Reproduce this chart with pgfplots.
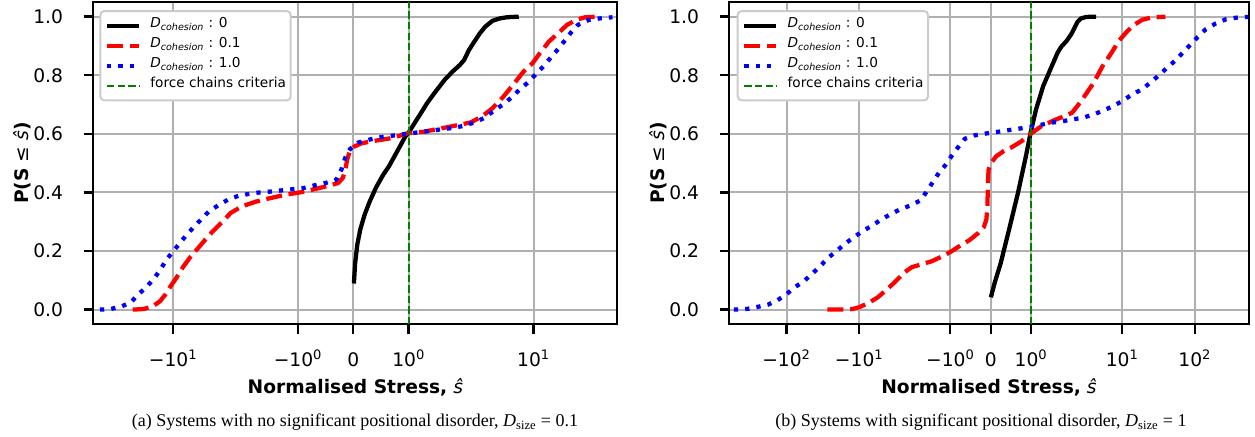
\documentclass[border=0pt]{standalone}
\usepackage{fontspec}
\setmainfont{DejaVu Sans}
\newfontfamily\capfont{Liberation Serif}
\usepackage{pgfplots}
\usepackage{pgfplotstable}
\pgfplotsset{compat=1.18}

\definecolor{gridgray}{HTML}{B0B0B0}
\definecolor{chaingreen}{HTML}{008000}
\definecolor{legedge}{HTML}{CCCCCC}

% stress values (s) and cumulative probability (p)
\pgfplotstableread{
s p
0.01 0.089
0.033 0.159
0.072 0.222
0.125 0.273
0.204 0.324
0.296 0.369
0.414 0.418
0.533 0.458
0.644 0.489
0.743 0.523
0.842 0.557
0.940 0.591
0.993 0.602
1.105 0.636
1.203 0.665
1.335 0.705
1.466 0.739
1.650 0.784
1.795 0.8125
1.926 0.835
2.01 0.852
2.245 0.886
2.547 0.915
2.89 0.943
3.28 0.966
3.88 0.986
4.59 0.994
5.43 0.998
7.11 1.0
}\aBlack

\pgfplotstableread{
s p
-25.5 0.0
-19.8 0.002
-16.1 0.011
-13.6 0.028
-12.0 0.051
-10.6 0.080
-9.30 0.108
-7.86 0.148
-6.64 0.182
-5.62 0.210
-4.75 0.239
-4.01 0.267
-3.25 0.298
-2.64 0.330
-2.05 0.352
-1.755 0.369
-1.492 0.381
-1.229 0.392
-0.967 0.400
-0.704 0.411
-0.440 0.423
-0.276 0.432
-0.191 0.449
-0.145 0.477
-0.112 0.511
-0.066 0.540
0.020 0.557
0.151 0.568
0.414 0.577
0.677 0.585
0.993 0.602
1.269 0.607
1.598 0.619
1.926 0.631
2.34 0.639
3.02 0.659
3.88 0.6875
4.99 0.727
6.43 0.773
7.94 0.8125
9.78 0.841
11.57 0.875
14.29 0.915
17.62 0.943
21.75 0.972
26.85 0.989
33.1 0.998
44.5 1.0
}\aRed

\pgfplotstableread{
s p
-54.4 0.0
-42.3 0.002
-32.9 0.011
-26.6 0.025
-22.5 0.051
-18.2 0.080
-15.4 0.108
-13.3 0.139
-11.7 0.170
-9.96 0.200
-8.55 0.227
-7.23 0.258
-6.11 0.284
-5.16 0.310
-4.37 0.335
-3.45 0.358
-2.75 0.377
-2.17 0.389
-1.887 0.395
-1.690 0.400
-1.492 0.403
-1.295 0.407
-1.098 0.411
-0.901 0.415
-0.704 0.424
-0.506 0.432
-0.309 0.443
-0.211 0.480
-0.145 0.519
-0.059 0.548
0.085 0.570
0.283 0.580
0.480 0.588
0.677 0.593
0.993 0.601
1.269 0.607
1.532 0.614
1.795 0.620
1.992 0.627
2.55 0.639
3.15 0.653
4.05 0.680
4.99 0.701
6.16 0.727
7.29 0.752
9.00 0.778
10.64 0.805
12.59 0.830
14.9 0.860
17.62 0.889
20.5 0.917
23.7 0.945
28.0 0.972
36.0 0.989
46.3 0.994
62.2 0.998
}\aBlue

\pgfplotstableread{
s p
0.005 0.042
0.098 0.091
0.249 0.159
0.455 0.273
0.677 0.399
0.873 0.524
0.989 0.604
1.123 0.683
1.301 0.763
1.479 0.820
1.658 0.877
1.747 0.897
1.880 0.917
1.996 0.940
2.16 0.957
2.42 0.982
2.71 0.994
3.21 0.999
4.37 1.0
}\bBlack

\pgfplotstableread{
s p
-27.4 0.0
-17.4 0.0
-12.3 0.002
-9.82 0.009
-7.38 0.023
-5.55 0.042
-4.17 0.068
-3.14 0.097
-2.36 0.128
-1.951 0.145
-1.729 0.154
-1.462 0.165
-1.194 0.182
-0.971 0.199
-0.749 0.219
-0.526 0.237
-0.303 0.262
-0.169 0.282
-0.107 0.308
-0.080 0.353
-0.071 0.421
-0.053 0.478
0.009 0.501
0.143 0.524
0.321 0.541
0.544 0.556
0.766 0.575
0.989 0.600
1.256 0.626
1.568 0.646
1.836 0.661
2.04 0.672
2.42 0.695
3.04 0.729
4.04 0.774
5.37 0.831
7.14 0.877
8.97 0.917
11.26 0.945
14.14 0.970
18.8 0.989
25.0 0.997
39.4 1.0
}\bRed

\pgfplotstableread{
s p
-530 0.0
-356 0.002
-253 0.009
-180 0.017
-135 0.031
-102 0.051
-76.4 0.077
-57.5 0.097
-44.2 0.123
-34.4 0.148
-26.8 0.177
-20.6 0.199
-15.9 0.224
-12.1 0.245
-8.97 0.268
-6.58 0.287
-4.95 0.308
-3.72 0.325
-2.74 0.342
-1.978 0.356
-1.747 0.372
-1.595 0.401
-1.444 0.433
-1.283 0.467
-1.123 0.493
-0.971 0.524
-0.820 0.552
-0.642 0.583
-0.392 0.595
-0.125 0.601
0.143 0.606
0.410 0.612
0.677 0.617
0.989 0.624
1.256 0.631
1.479 0.638
1.747 0.642
2.04 0.649
2.87 0.655
4.04 0.666
5.55 0.680
7.55 0.695
10.05 0.712
13.8 0.735
18.8 0.752
25.0 0.777
32.1 0.800
41.7 0.826
54.3 0.851
68.1 0.877
87.6 0.905
110 0.931
141.4 0.957
194.5 0.977
267.7 0.991
385.5 0.997
543 0.999
}\bBlue

\pgfplotstableread{
s p
1 -0.05
1 1.05
}\crit

\pgfplotsset{
  cdf/.style={
    scale only axis, height=241.7pt,
    ymin=-0.05, ymax=1.05, ytick={0,0.2,0.4,0.6,0.8,1.0},
    yticklabel style={/pgf/number format/fixed, /pgf/number format/fixed zerofill,
      /pgf/number format/precision=1, /pgf/number format/assume math mode=true},
    xtick pos=left, ytick pos=left, tick align=outside,
    major tick length=7pt, minor tick num=0,
    major tick style={black, line width=1.75pt},
    axis line style={black, line width=1.75pt},
    grid=major, major grid style={gridgray, line width=1.5pt},
    tick label style={font=\fontsize{14}{15}\selectfont},
    xticklabel style={anchor=base, inner sep=0pt, yshift=-24.5pt},
    yticklabel style={anchor=east, inner sep=0pt, xshift=-15.5pt},
    xlabel={\textbf{Normalised Stress,} \textit{ŝ}},
    ylabel={\textbf{P(S} ≤ \textit{ŝ}\textbf{)}},
    label style={font=\fontsize{14}{16}\selectfont},
    xlabel style={at={(axis description cs:0.5,0)}, anchor=base, yshift=-52pt},
    ylabel style={at={(axis description cs:-0.124,0.5)}, anchor=base},
    legend cell align=left,
    legend image code/.code={\draw[##1] (0pt,0pt) -- (23.8pt,0pt); \path (30.8pt,0pt);},
    legend style={anchor=north west, font=\fontsize{10.25}{12}\selectfont,
      draw=legedge, line width=1.5pt, rounded corners=3pt, fill=white,
      inner xsep=3.5pt, inner ysep=3.5pt, row sep=0pt,
      nodes={inner sep=0pt, text height=9pt, text depth=6pt}},
  },
  blk/.style={black, line width=3.2pt, line join=round, solid},
  rdd/.style={red, line width=3.2pt, line join=round, dash pattern=on 12pt off 5pt},
  blu/.style={blue, line width=3.2pt, line join=round, dash pattern=on 3.2pt off 5.3pt},
  grn/.style={chaingreen, line width=1.5pt, dash pattern=on 5.5pt off 2.4pt},
}

\begin{document}
\begin{tikzpicture}[declare function={slog(\x)=(abs(\x)<2) ? (10/9)*\x : ((\x>0) ? 2*(10/9+ln(max(abs(\x),2)/2)/ln(10)) : -2*(10/9+ln(max(abs(\x),2)/2)/ln(10)));}]
\useasboundingbox (-70pt,-84.5pt) rectangle (871.3pt,243.2pt);

\begin{axis}[cdf, at={(0pt,0pt)}, anchor=south west, width=393pt,
  xmin=-5.224, xmax=5.304,
  xtick={-3.62016,-1.11111,0,1.11111,3.62016},
  xticklabels={−10\textsuperscript{1},−10\textsuperscript{0},0,10\textsuperscript{0},10\textsuperscript{1}},
  legend style={at={(axis description cs:0.0115,0.975)}}]
\addplot[blk] table[x expr={slog(\thisrow{s})}, y=p] {\aBlack};
\addlegendentry{{\itshape D\textsubscript{cohesion}} : 0}
\addplot[rdd] table[x expr={slog(\thisrow{s})}, y=p] {\aRed};
\addlegendentry{{\itshape D\textsubscript{cohesion}} : 0.1}
\addplot[blu] table[x expr={slog(\thisrow{s})}, y=p] {\aBlue};
\addlegendentry{{\itshape D\textsubscript{cohesion}} : 1.0}
\addplot[grn] table[x expr={slog(\thisrow{s})}, y=p] {\crit};
\addlegendentry{force chains criteria}
\end{axis}

\begin{axis}[cdf, at={(477pt,0pt)}, anchor=south west, width=389.55pt,
  xmin=-7.195, xmax=7.102,
  xtick={-5.62016,-3.62016,-1.11111,0,1.11111,3.62016,5.62016},
  xticklabels={−10\textsuperscript{2},−10\textsuperscript{1},−10\textsuperscript{0},0,10\textsuperscript{0},10\textsuperscript{1},10\textsuperscript{2}},
  legend style={at={(axis description cs:0.0142,0.975)}}]
\addplot[blk] table[x expr={slog(\thisrow{s})}, y=p] {\bBlack};
\addlegendentry{{\itshape D\textsubscript{cohesion}} : 0}
\addplot[rdd] table[x expr={slog(\thisrow{s})}, y=p] {\bRed};
\addlegendentry{{\itshape D\textsubscript{cohesion}} : 0.1}
\addplot[blu] table[x expr={slog(\thisrow{s})}, y=p] {\bBlue};
\addlegendentry{{\itshape D\textsubscript{cohesion}} : 1.0}
\addplot[grn] table[x expr={slog(\thisrow{s})}, y=p] {\crit};
\addlegendentry{force chains criteria}
\end{axis}

\node[anchor=base, font=\capfont\fontsize{13.5}{16}\selectfont] at (196.3pt,-77pt)
  {(a) Systems with no significant positional disorder, {\itshape D}\textsubscript{size} = 0.1};
\node[anchor=base, font=\capfont\fontsize{13.5}{16}\selectfont] at (665.8pt,-77pt)
  {(b) Systems with significant positional disorder, {\itshape D}\textsubscript{size} = 1};
\end{tikzpicture}
\end{document}
